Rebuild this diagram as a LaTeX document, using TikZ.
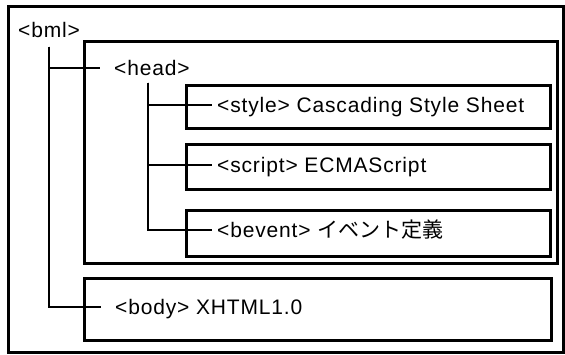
\documentclass[tikz,border=0pt]{standalone}
\usepackage{fontspec}
\setmainfont{Liberation Sans}[LetterSpace=4]
\newfontfamily\jafont{Noto Sans CJK JP}

\begin{document}
\begin{tikzpicture}[x=1pt,y=-1pt,font=\fontsize{21}{25}\selectfont,
    frame/.style ={draw, line width=2.6pt, inner sep=0pt, anchor=north west},
    tag/.style ={anchor=west, inner ysep=0pt, inner xsep=5pt, text height=15pt, text depth=0pt},
    branch/.style ={line width=1.8pt}]
   \useasboundingbox (0,0) rectangle (565,354);
   % nested boxes
   \node[frame, minimum width=555pt, minimum height=346pt] (bmlbox)    at (7,5)    {};
   \node[frame, minimum width=473pt, minimum height=222pt] (headbox)   at (83,40)  {};
   \node[frame, minimum width=364pt, minimum height=43pt]  (stylebox)  at (185,84) {};
   \node[frame, minimum width=364pt, minimum height=45pt]  (scriptbox) at (185,143) {};
   \node[frame, minimum width=364pt, minimum height=46pt]  (beventbox) at (185,209) {};
   \node[frame, minimum width=467pt, minimum height=62pt]  (bodybox)   at (83,277) {};
   % element names
   \node[tag, inner xsep=0pt] (bml) at (18,30) {<bml>};
   \node[tag, inner xsep=14pt] (head) at (100,68) {<head>};
   \node[tag, inner xsep=14pt] (body) at (101,307) {<body> XHTML1.0};
   \node[tag] (style)  at (212,105) {<style> Cascading Style Sheet};
   \node[tag] (script) at (212,165) {<script> ECMAScript};
   \node[tag] (bevent) at (212,230) {<bevent> {\jafont イベント定義}};
   % tree lines
   \draw[branch] ([yshift=-9pt]bml.south) |- (head.west);
   \draw[branch] ([yshift=-9pt]bml.south) |- (body.west);
   \draw[branch] ([xshift=-4pt,yshift=-7pt]head.south) |- (style.west);
   \draw[branch] ([xshift=-4pt,yshift=-7pt]head.south) |- (script.west);
   \draw[branch] ([xshift=-4pt,yshift=-7pt]head.south) |- (bevent.west);
\end{tikzpicture}
\end{document}
